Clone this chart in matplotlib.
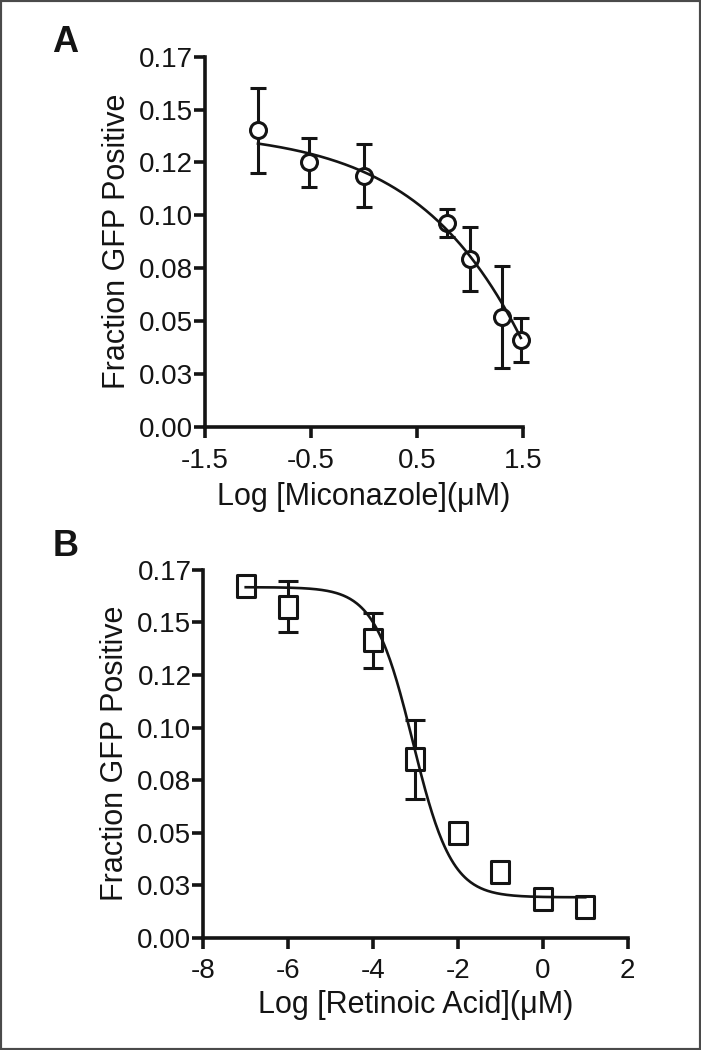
import numpy as np
import matplotlib
matplotlib.use("Agg")
import matplotlib.pyplot as plt
from matplotlib.path import Path
from matplotlib.patches import Rectangle

plt.rcParams['font.family'] = ['Liberation Sans', 'DejaVu Sans']
plt.rcParams['axes.unicode_minus'] = False

# Panel A: miconazole
mic_logx = [-1.0, -0.52, 0.0, 0.78, 1.0, 1.3, 1.48]
mic_frac = [0.1401, 0.1250, 0.1188, 0.0965, 0.0792, 0.0520, 0.0410]
mic_sem = [0.0200, 0.0117, 0.0150, 0.0067, 0.0151, 0.0242, 0.0103]
# fitted curve (top, bottom, logIC50, hill)
mic_fit = (0.1403, -0.6733, 3.204, 0.5)

# Panel B: retinoic acid
ra_logx = [-7, -6, -4, -3, -2, -1, 0, 1]
ra_frac = [0.1675, 0.1576, 0.1416, 0.0849, 0.0497, 0.0313, 0.0186, 0.0148]
ra_sem = [0.0, 0.0121, 0.0131, 0.0187, 0.0, 0.0, 0.0, 0.0]
ra_fit = (0.1668, 0.0192, -3.06, 0.95)

y_ticks = [0.0, 0.025, 0.05, 0.075, 0.1, 0.125, 0.15, 0.175]
y_labels = ['0.00', '0.03', '0.05', '0.08', '0.10', '0.12', '0.15', '0.17']
mic_xticks = [-1.5, -0.5, 0.5, 1.5]
ra_xticks = [-8, -6, -4, -2, 0, 2]

INK = '#141414'


def logistic(x, top, bottom, logic50, hill):
    return bottom + (top - bottom) / (1 + 10 ** ((x - logic50) * hill))


def style_axes(ax):
    for s in ['top', 'right']:
        ax.spines[s].set_visible(False)
    for s in ['left', 'bottom']:
        ax.spines[s].set_linewidth(2.6)
        ax.spines[s].set_color(INK)
    ax.tick_params(axis='both', length=8, width=2.6, color=INK,
                   labelsize=20, labelcolor=INK)
    ax.tick_params(axis='y', pad=0.5)
    ax.tick_params(axis='x', pad=7)
    ax.set_ylim(0, 0.175)
    ax.set_yticks(y_ticks)
    ax.set_yticklabels(y_labels)
    ax.set_ylabel('Fraction GFP Positive', fontsize=22, color=INK, labelpad=5)


def draw_panel(ax, x, y, sem, fit, marker, ms, capsize):
    x = np.asarray(x)
    y = np.asarray(y)
    sem = np.asarray(sem)
    has = sem > 0
    ax.errorbar(x[has], y[has], yerr=sem[has], fmt='none', ecolor=INK,
                elinewidth=2.2, capsize=capsize, capthick=2.2, zorder=2,
                clip_on=False)
    ax.plot(x, y, linestyle='none', marker=marker, ms=ms, mfc='white',
            mec=INK, mew=2.2, zorder=3, clip_on=False)
    xs = np.linspace(x.min(), x.max(), 300)
    ax.plot(xs, logistic(xs, *fit), color=INK, lw=1.9, zorder=4,
            clip_on=False)


fig = plt.figure(figsize=(7.01, 10.5), dpi=100)
fig.patches.append(Rectangle((0, 0), 1, 1, transform=fig.transFigure,
                             fill=False, edgecolor='#4a4a4a', lw=3))

# panel A
axA = fig.add_axes([0.2924, 0.5936, 0.4536, 0.3524])
style_axes(axA)
draw_panel(axA, mic_logx, mic_frac, mic_sem, mic_fit, 'o', 11.5, 6)
axA.set_xlim(-1.5, 1.5)
axA.set_xticks(mic_xticks)
axA.set_xticklabels(['-1.5', '-0.5', '0.5', '1.5'])
axA.set_xlabel('Log [Miconazole](\u03bcM)', fontsize=22, color=INK,
               labelpad=6)

# panel B
tall_box = Path([(-0.8, -1), (0.8, -1), (0.8, 1), (-0.8, 1), (-0.8, -1)],
                [Path.MOVETO, Path.LINETO, Path.LINETO, Path.LINETO,
                 Path.CLOSEPOLY])
axB = fig.add_axes([0.2900, 0.1070, 0.6054, 0.3502])
style_axes(axB)
draw_panel(axB, ra_logx, ra_frac, ra_sem, ra_fit, tall_box, 15.5, 7)
axB.set_xlim(-8, 2)
axB.set_xticks(ra_xticks)
axB.set_xticklabels([str(t) for t in ra_xticks])
axB.set_xlabel('Log [Retinoic Acid](\u03bcM)', fontsize=22, color=INK,
               labelpad=4)

fig.text(52 / 701, 1 - 52 / 1050, 'A', fontsize=26, fontweight='bold',
         color=INK, ha='left', va='baseline')
fig.text(53 / 701, 1 - 556 / 1050, 'B', fontsize=26, fontweight='bold',
         color=INK, ha='left', va='baseline')

fig.savefig('out.png', dpi=100, facecolor='white')
